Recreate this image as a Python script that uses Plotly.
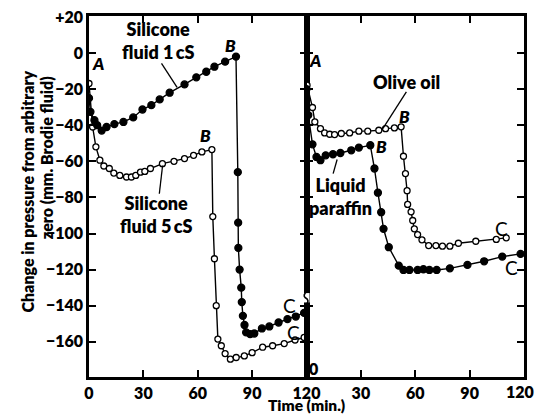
import plotly.graph_objects as go

# ---- data (minutes, mm Brodie fluid) ----
sil1_t = [0, 0.8, 3.0, 4.5, 7.0, 9.7, 14.0, 19.0, 24.4, 29.5, 34.4, 39.0, 44.5, 52.7, 59.2, 64.7, 69.2, 75.1, 81.1,
          82.1, 82.3, 82.4, 83.1, 84.0, 84.3, 84.9, 85.8, 86.7, 88.9, 91.2, 95.4, 99.5, 104.6, 109.5, 114.1, 118.7]
sil1_v = [-25, -32.6, -37.2, -40, -43, -41, -39.4, -38.2, -35.7, -31.3, -28.9, -25.7, -22, -17.4, -13.5, -10.4, -7.6, -4.8, -2,
          -66, -94, -108, -120, -130, -138, -145.6, -150.7, -154.8, -155.7, -155.4, -152.6, -151.5, -149.3, -147.4, -146, -144]

sil5_t = [0, 2, 3.8, 6, 8.2, 11.2, 13.7, 17, 20.7, 23.4, 25.8, 28.4, 30.8, 33.9, 40.5, 46.9, 52.7, 57.7, 62.3, 67.8,
          68.3, 69.2, 70.2, 71.1, 73, 75.1, 78, 81.2, 85.7, 90, 95.8, 101.3, 107.7, 113.7, 118.7]
sil5_v = [-16.9, -41, -52, -59.4, -62.6, -64, -66.5, -67.8, -68.7, -68.7, -67.8, -66, -65.6, -64, -61.3, -60, -58.5, -56.7, -54.8, -53.5,
          -90.6, -114, -140, -158.5, -162.2, -166.5, -169.6, -168.7, -167.8, -166, -163, -162.2, -161, -159, -157.6]

olive_t = [0.3, 3.3, 4.6, 7.7, 10, 12.8, 15.5, 19.2, 23.8, 28.9, 33.8, 39.9, 43.6, 48.5, 52.2,
           53.5, 54.6, 55.5, 55.8, 57.7, 58.6, 59.5, 61.3, 63.7, 67.4, 71.4, 75, 79.1, 83.8, 93.4, 104.7, 110.2]
olive_v = [-17.8, -30.2, -38.2, -41.9, -44.3, -45, -45.2, -44.6, -44.3, -43.3, -43.3, -42.8, -41.9, -41.5, -40.9,
           -57.2, -66.8, -76.3, -83.9, -88, -92.8, -97.4, -100.6, -103.5, -106.7, -106.7, -107, -107, -105.4, -104.3, -103.3, -102.4]

paraf_t = [0, 1.0, 3.3, 5.5, 7.7, 10.6, 14.6, 18.7, 24.7, 28.9, 35.2, 37.5, 39.4, 41.2, 42.5, 45.4, 50.9,
           53.5, 56.8, 61.3, 64.5, 67.8, 71.8, 79.1, 88.8, 98, 108, 118.1]
paraf_v = [-20, -34.4, -50.6, -57.6, -59.4, -56.7, -56.1, -55.4, -53.9, -52.4, -51.1, -64, -77.4, -88.2, -97.4, -107.6, -117.8,
           -120.2, -120.2, -120.2, -119.8, -120.2, -120.2, -119.3, -117.4, -115.4, -112.8, -111.3]

y_ticks = [20, 0, -20, -40, -60, -80, -100, -120, -140, -160]
y_text = ["+20", "0", "\u221220", "\u221240", "\u221260", "\u221280", "\u2212100", "\u2212120", "\u2212140", "\u2212160"]
x_left_ticks = [0, 30, 60, 90, 120]
x_right_ticks = [30, 60, 90, 120]

FONT = "Lato"
W = 800
fig = go.Figure()


def add(t, v, filled, xa, ya):
    fig.add_trace(go.Scatter(
        x=t, y=v, mode="lines+markers", xaxis=xa, yaxis=ya,
        line=dict(color="black", width=1.4),
        marker=dict(size=7 if filled else 6, color="black" if filled else "white",
                    line=dict(color="black", width=1.3)),
        showlegend=False, hoverinfo="skip"))


add(sil5_t, sil5_v, False, "x", "y")
add(sil1_t, sil1_v, True, "x", "y")
add(olive_t, olive_v, False, "x2", "y2")
add(paraf_t, paraf_v, True, "x2", "y2")

tickfont = dict(family=FONT, size=16, color="black", weight=W)
axis_common = dict(showline=True, linewidth=2.5, linecolor="black", ticks="inside", ticklen=7,
                   tickwidth=2, tickcolor="black", mirror="ticks", showgrid=False, zeroline=False,
                   automargin=False, tickfont=tickfont)
yr = [-179.5, 20.5]
fig.update_layout(
    width=536, height=415, plot_bgcolor="white", paper_bgcolor="white",
    margin=dict(l=89, r=12, t=16, b=38),
    xaxis=dict(domain=[0, 0.5], range=[0, 120], tickvals=x_left_ticks, anchor="y", **axis_common),
    # the right panel's last label (120) sits on the page edge; it is drawn as an annotation below
    xaxis2=dict(domain=[0.5, 1], range=[0, 120], tickvals=x_right_ticks,
                ticktext=[str(v) if v != 120 else "" for v in x_right_ticks], anchor="y2", **axis_common),
    yaxis=dict(range=yr, tickvals=y_ticks, ticktext=y_text, anchor="x", **axis_common),
    yaxis2=dict(range=yr, tickvals=y_ticks, anchor="x2", showticklabels=False, **axis_common),
)

bold = dict(family=FONT, size=18, color="black", weight=W)
letter = dict(family=FONT, size=17, color="black", weight=W, style="italic")
cfont = dict(family=FONT, size=19, color="black", weight="normal")


def ann(xa, ya, x, y, text, font, **kw):
    fig.add_annotation(xref=xa, yref=ya, x=x, y=y, text=text, showarrow=False, font=font, **kw)


# left panel labels
ann("x", "y", 38, 7.2, "Silicone<br>fluid 1\u2009cS", bold)
ann("x", "y", 37, -89.4, "Silicone<br>fluid 5\u2009cS", bold)
ann("x", "y", 5.1, -5.7, "A", letter)
ann("x", "y", 78, 4.4, "B", letter)
ann("x", "y", 64.5, -45.6, "B", letter)
ann("x", "y", 110.4, -140, "C", cfont)
ann("x", "y", 112.6, -154.8, "C", cfont)
# right panel labels
ann("x2", "y2", 4.6, -3.9, "A", letter)
ann("x2", "y2", 55.1, -16, "Olive oil", bold)
ann("x2", "y2", 54.2, -35.4, "B", letter)
ann("x2", "y2", 41.3, -52, "B", letter)
ann("x2", "y2", 18.9, -79.4, "Liquid<br>paraffin", bold)
ann("x2", "y2", 107.5, -97.4, "C", cfont)
ann("x2", "y2", 113, -119, "C", cfont)
ann("x2", "y2", 3.6, -174.6, "0", tickfont)
# right panel's final tick label at the page edge
fig.add_annotation(xref="x2", yref="paper", x=x_right_ticks[-1], y=0, yshift=-14, yanchor="middle",
                   xanchor="right", xshift=12, text=str(x_right_ticks[-1]), showarrow=False, font=tickfont)

# leader lines
for xa, ya, x0, y0, x1, y1 in [("x", "y", 40, -5.7, 48.6, -19),
                                ("x", "y", 38.8, -78, 40.6, -62.3),
                                ("x2", "y2", 55.1, -21.5, 42.2, -41.8),
                                ("x2", "y2", 14.7, -66.8, 16.9, -59)]:
    fig.add_shape(type="line", xref=xa, yref=ya, x0=x0, y0=y0, x1=x1, y1=y1,
                  line=dict(color="black", width=1.3))

# axis break mark on the middle axis
fig.add_shape(type="rect", xref="paper", yref="y", x0=0.494, x1=0.507, y0=-133.0, y1=-138.2,
              line=dict(width=0), fillcolor="white", layer="above")
fig.add_shape(type="path", xref="paper", yref="y", layer="above",
              path="M 0.5005,-132.2 Q 0.4905,-134.2 0.4975,-135.6 Q 0.5075,-137.0 0.5005,-139.0",
              line=dict(color="black", width=1.6))

# axis titles
tfont = dict(family=FONT, size=16, color="black", weight=W)
fig.add_annotation(xref="paper", yref="paper", x=0.5, y=0, yshift=-28, text="Time (min.)",
                   showarrow=False, font=dict(family=FONT, size=15.5, color="black", weight=W), yanchor="middle")
fig.add_annotation(xref="paper", yref="y", x=0, xshift=-73, y=-77, text="Change in pressure from arbitrary",
                   textangle=-90, showarrow=False, font=tfont)
fig.add_annotation(xref="paper", yref="y", x=0, xshift=-54, y=-58, text="zero (mm. Brodie fluid)",
                   textangle=-90, showarrow=False, font=tfont)

fig.write_html("out.html", config={"displayModeBar": False},
               post_script="document.body.style.margin='0';document.body.style.overflow='hidden';")
